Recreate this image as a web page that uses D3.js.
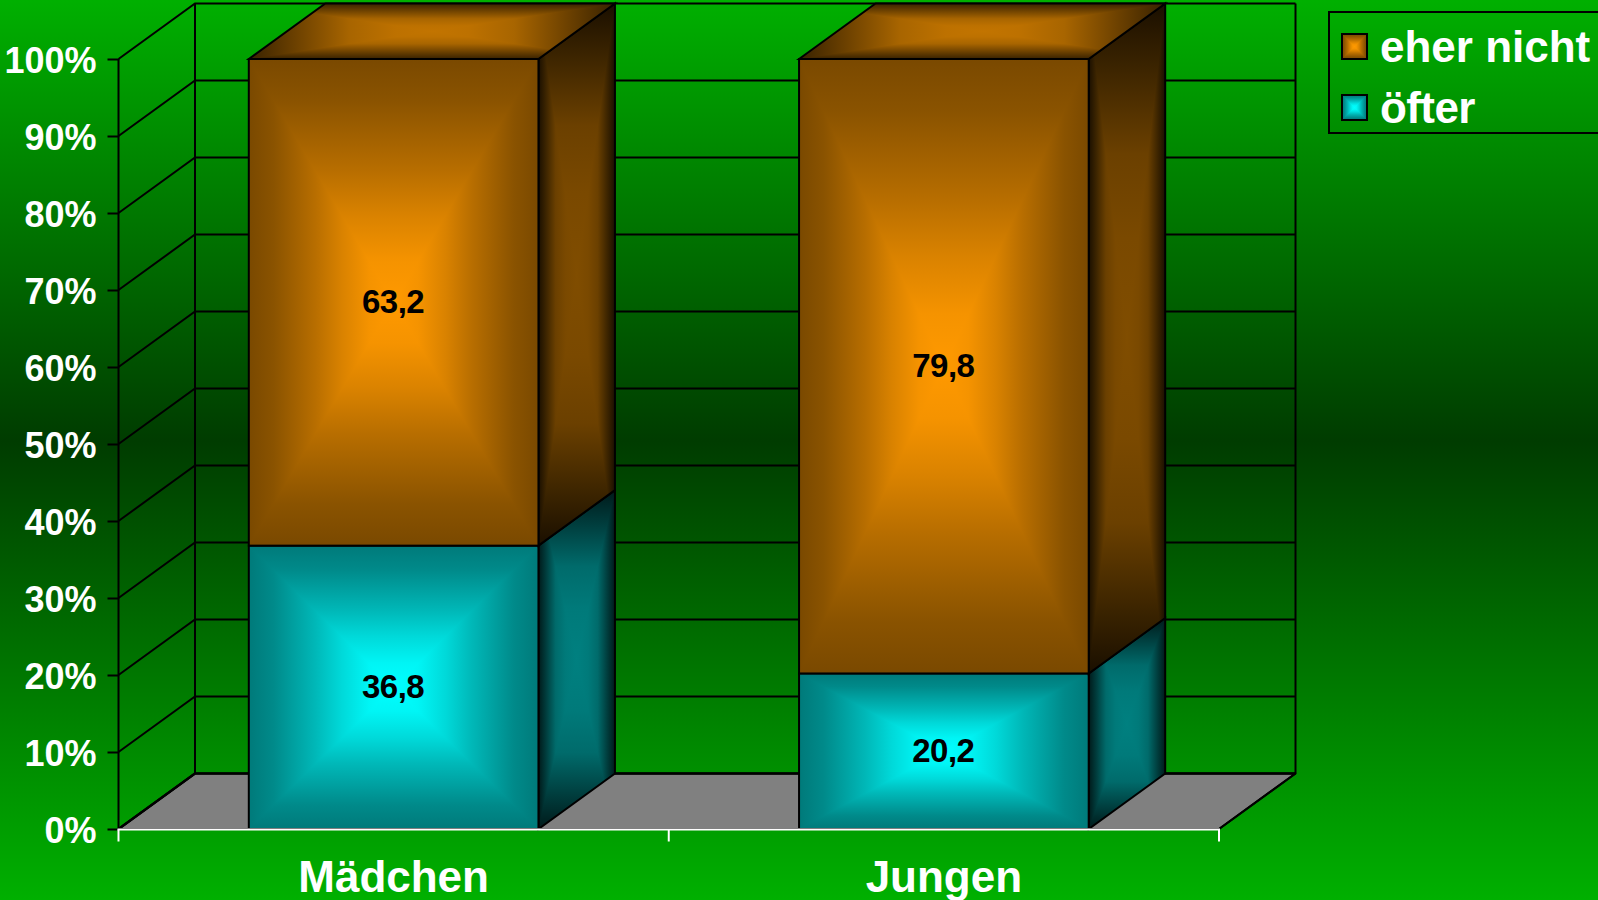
<!DOCTYPE html>
<html lang="en">
<head>
<meta charset="UTF-8">
<title>Mädchen / Jungen</title>
<script src="https://d3js.org/d3.v7.min.js"></script>
<style>
    html, body { margin: 0; padding: 0; overflow: hidden; }
    svg { display: block; font-family: "Liberation Sans", Arial, sans-serif; font-weight: bold; }
</style>
</head>
<body>
<svg width="1598" height="900"></svg>
<script>
const categories = ['Mädchen', 'Jungen'];
const seriesNames = ['öfter', 'eher nicht'];
const oefter = [36.8, 20.2];
const eherNicht = [63.2, 79.8];
const yTicks = [0, 10, 20, 30, 40, 50, 60, 70, 80, 90, 100];
const fmt = v => v.toFixed(1).replace('.', ',');

const W = 1598, H = 900;
const depth = {x: 76.5, y: -55.5};
const colors = {
    'öfter': [0, 255, 255],
    'eher nicht': [255, 153, 0]
};

// brightness ramps, edge of the face (t=0) to its centre (t=1)
const frontRamp = [[0, 0.48], [0.17, 0.54], [0.46, 0.72], [0.64, 0.85], [0.83, 0.96], [1, 1]];
const sideRamp = [[0, 0.1], [0.2, 0.24], [0.45, 0.42], [0.7, 0.48], [1, 0.5]];
const topRamp = [[0, 0.22], [0.25, 0.42], [0.55, 0.66], [0.8, 0.74], [1, 0.76]];

const svg = d3.select('svg');
const defs = svg.append('defs');

const x = d3.scaleBand().domain(categories).range([118.5, 1219]).paddingInner(0.4736).paddingOuter(0.2368);
const y = d3.scaleLinear().domain([0, 100]).range([829, 59]);
const xMin = x.range()[0], xMax = x.range()[1];

const shade = (c, k) => `rgb(${c.map(v => Math.round(v * k)).join(',')})`;
const poly = pts => pts.map(p => p.join(',')).join(' ');

// page background
const bg = defs.append('linearGradient').attr('id', 'bg').attr('x1', 0).attr('x2', 0).attr('y1', 0).attr('y2', 1);
bg.append('stop').attr('offset', 0).attr('stop-color', '#00b000');
bg.append('stop').attr('offset', 0.49).attr('stop-color', '#003c00');
bg.append('stop').attr('offset', 1).attr('stop-color', '#00b000');
svg.append('rect').attr('width', W).attr('height', H).attr('fill', 'url(#bg)');

// floor
svg.append('polygon')
    .attr('points', poly([[xMin, y(0)], [xMin + depth.x, y(0) + depth.y], [xMax + depth.x, y(0) + depth.y], [xMax, y(0)]]))
    .attr('fill', '#808080').attr('stroke', '#000').attr('stroke-width', 2).attr('stroke-linejoin', 'round');

// walls and grid lines
const grid = svg.append('g').attr('stroke', '#000').attr('fill', 'none');
grid.selectAll('path.g').data(yTicks).enter().append('path')
    .attr('class', 'g')
    .attr('stroke-width', d => d === 0 ? 2.5 : 2)
    .attr('d', d => `M${xMin},${y(d)}L${xMin + depth.x},${y(d) + depth.y}L${xMax + depth.x},${y(d) + depth.y}`);
grid.append('path').attr('stroke-width', 2)
    .attr('d', `M${xMin},${y(0)}V${y(100)}M${xMin + depth.x},${y(0) + depth.y}V${y(100) + depth.y}M${xMax + depth.x},${y(0) + depth.y}V${y(100) + depth.y}`);
grid.append('path').attr('stroke-width', 2)
    .attr('d', `M${xMin},${y(0)}L${xMin + depth.x},${y(0) + depth.y}M${xMax},${y(0)}L${xMax + depth.x},${y(0) + depth.y}`);

// rectangular "from centre" gradient, as in the office chart fill:
// a vertical ramp over the box, with left and right wedges on top
let gid = 0;
function rectFill(g, box, base, curve, clipPts) {
    const id = ++gid;
    const cx = box.x + box.w / 2, cy = box.y + box.h / 2;
    const layer = g.append('g');
    if (clipPts) {
        defs.append('clipPath').attr('id', 'c' + id).append('polygon').attr('points', poly(clipPts));
        layer.attr('clip-path', `url(#c${id})`);
    }
    const ramp = (name, x1, y1, x2, y2) => {
        const l = defs.append('linearGradient').attr('id', name).attr('gradientUnits', 'userSpaceOnUse')
            .attr('x1', x1).attr('y1', y1).attr('x2', x2).attr('y2', y2);
        curve.forEach(s => l.append('stop').attr('offset', s[0] / 2).attr('stop-color', shade(base, s[1])));
        [...curve].reverse().forEach(s => l.append('stop').attr('offset', 1 - s[0] / 2).attr('stop-color', shade(base, s[1])));
    };
    ramp('v' + id, 0, box.y, 0, box.y + box.h);
    ramp('h' + id, box.x, 0, box.x + box.w, 0);
    layer.append('rect').attr('x', box.x).attr('y', box.y).attr('width', box.w).attr('height', box.h)
        .attr('fill', `url(#v${id})`);
    const x0 = box.x, x1 = box.x + box.w, y0 = box.y, y1 = box.y + box.h;
    layer.append('polygon').attr('points', poly([[x0, y0], [cx, cy], [x0, y1]])).attr('fill', `url(#h${id})`);
    layer.append('polygon').attr('points', poly([[x1, y0], [cx, cy], [x1, y1]])).attr('fill', `url(#h${id})`);
}

// stacked 3d bars
const stack = categories.map((c, i) => {
    const a = {key: 'öfter', cat: c, from: 0, to: oefter[i]};
    const b = {key: 'eher nicht', cat: c, from: oefter[i], to: oefter[i] + eherNicht[i]};
    return [a, b];
}).flat();

const bars = svg.append('g');
stack.forEach(d => {
    const c = colors[d.key];
    const x0 = x(d.cat), x1 = x0 + x.bandwidth();
    const yTop = y(d.to), yBot = y(d.from);
    const g = bars.append('g');

    const sidePts = [[x1, yTop], [x1 + depth.x, yTop + depth.y], [x1 + depth.x, yBot + depth.y], [x1, yBot]];
    rectFill(g, {x: x1, y: yTop + depth.y, w: depth.x, h: yBot - yTop - depth.y}, c, sideRamp, sidePts);
    g.append('polygon').attr('points', poly(sidePts)).attr('fill', 'none').attr('stroke', '#000').attr('stroke-width', 2);

    if (d.to >= 99.9) {
        const topPts = [[x0, yTop], [x0 + depth.x, yTop + depth.y], [x1 + depth.x, yTop + depth.y], [x1, yTop]];
        rectFill(g, {x: x0, y: yTop + depth.y, w: x1 + depth.x - x0, h: -depth.y}, c, topRamp, topPts);
        g.append('polygon').attr('points', poly(topPts)).attr('fill', 'none').attr('stroke', '#000').attr('stroke-width', 2);
    }

    rectFill(g, {x: x0, y: yTop, w: x1 - x0, h: yBot - yTop}, c, frontRamp);
    g.append('rect').attr('x', x0).attr('y', yTop).attr('width', x1 - x0).attr('height', yBot - yTop)
        .attr('fill', 'none').attr('stroke', '#000').attr('stroke-width', 2);

    g.append('text').attr('x', (x0 + x1) / 2 - 0.5).attr('y', (yTop + yBot) / 2 + 11)
        .attr('text-anchor', 'middle').attr('font-size', 33).attr('letter-spacing', -0.5)
        .attr('fill', '#000').text(fmt(d.to - d.from));
});

// y axis
const yAxis = svg.append('g').attr('transform', `translate(${xMin},0)`)
    .call(d3.axisLeft(y).tickValues(yTicks).tickFormat(d => d + '%').tickSize(11).tickPadding(11));
yAxis.select('.domain').remove();
yAxis.selectAll('line').attr('stroke', '#000').attr('stroke-width', 2);
yAxis.selectAll('text').attr('fill', '#fff').attr('font-size', 36).attr('font-family', null).attr('dy', '0.38em');

// x axis
const xAxis = svg.append('g').attr('transform', `translate(0,${y(0) + 0.5})`);
xAxis.append('path').attr('d', `M${xMin - 1},0H${xMax + 1}`).attr('stroke', '#fff').attr('stroke-width', 2).attr('fill', 'none');
xAxis.selectAll('line').data([xMin, (xMin + xMax) / 2, xMax]).enter().append('line')
    .attr('x1', d => d).attr('x2', d => d).attr('y1', 0).attr('y2', 12)
    .attr('stroke', '#fff').attr('stroke-width', 2);
xAxis.selectAll('text').data(categories).enter().append('text')
    .attr('x', d => x(d) + x.bandwidth() / 2).attr('y', 62)
    .attr('text-anchor', 'middle').attr('fill', '#fff').attr('font-size', 44).text(d => d);

// legend
const legend = svg.append('g');
legend.append('rect').attr('x', 1329).attr('y', 12).attr('width', 280).attr('height', 121)
    .attr('fill', 'none').attr('stroke', '#000').attr('stroke-width', 2);
[...seriesNames].reverse().forEach((name, i) => {
    const ly = 34 + i * 61;
    const c = colors[name];
    rectFill(legend, {x: 1342, y: ly, w: 25, h: 25}, c, frontRamp);
    legend.append('rect').attr('x', 1342).attr('y', ly).attr('width', 25).attr('height', 25)
        .attr('fill', 'none').attr('stroke', '#000').attr('stroke-width', 2);
    legend.append('text').attr('x', 1380).attr('y', ly + 28).attr('fill', '#fff').attr('font-size', 44)
        .attr('letter-spacing', i ? -0.6 : 0).text(name);
});
</script>
</body>
</html>
